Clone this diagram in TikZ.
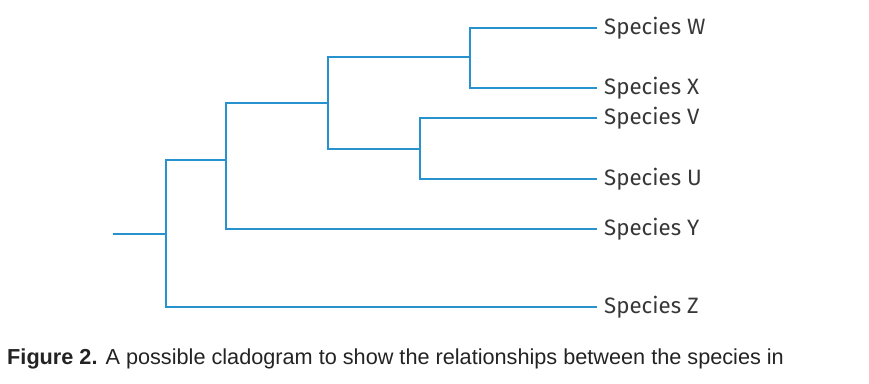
\documentclass[tikz,border=0pt]{standalone}
\usepackage{fontspec}
\setmainfont{Fira Sans}
\newfontfamily\capfont{Liberation Sans}
\usetikzlibrary{positioning}
\definecolor{branchblue}{RGB}{40,146,206}
\definecolor{textgray}{RGB}{55,55,55}
\definecolor{captext}{RGB}{35,35,35}

\begin{document}
\begin{tikzpicture}[x=0.03cm,y=-0.03cm,
    branch/.style={draw=branchblue, line width=2.5pt},
    leaf/.style={anchor=west, inner xsep=0.21cm, inner ysep=0pt, text=textgray, font=\fontsize{19}{22}\selectfont}]
\useasboundingbox (0,0) rectangle (869,383);
% species labels
\node[leaf] (W) at (597,28) {Species W};
\node[leaf] (X) at (597,88) {Species X};
\node[leaf] (V) at (597,118) {Species V};
\node[leaf] (U) at (597,179) {Species U};
\node[leaf] (Y) at (597,229) {Species Y};
\node[leaf] (Z) at (597,307) {Species Z};
% branch points
\coordinate (root) at (113,234);
\coordinate (n1) at (166,234);
\coordinate (n2) at (226,160);
\coordinate (n3) at (328,103);
\coordinate (n4) at (470,57);
\coordinate (n5) at (420,149);
% tree
\draw[branch] (root) -- (n1);
\draw[branch] (n1) |- (n2);
\draw[branch] (n1) |- (Z.west);
\draw[branch] (n2) |- (n3);
\draw[branch] (n2) |- (Y.west);
\draw[branch] (n3) |- (n4);
\draw[branch] (n3) |- (n5);
\draw[branch] (n4) |- (W.west);
\draw[branch] (n4) |- (X.west);
\draw[branch] (n5) |- (V.west);
\draw[branch] (n5) |- (U.west);
% caption
\node[anchor=base west, inner sep=0pt, text=captext, font=\capfont\fontsize{18.5}{22}\selectfont] (cap) at (7,364)
  {\textbf{Figure 2.} A possible cladogram to show the relationships between the species in};
\end{tikzpicture}
\end{document}
